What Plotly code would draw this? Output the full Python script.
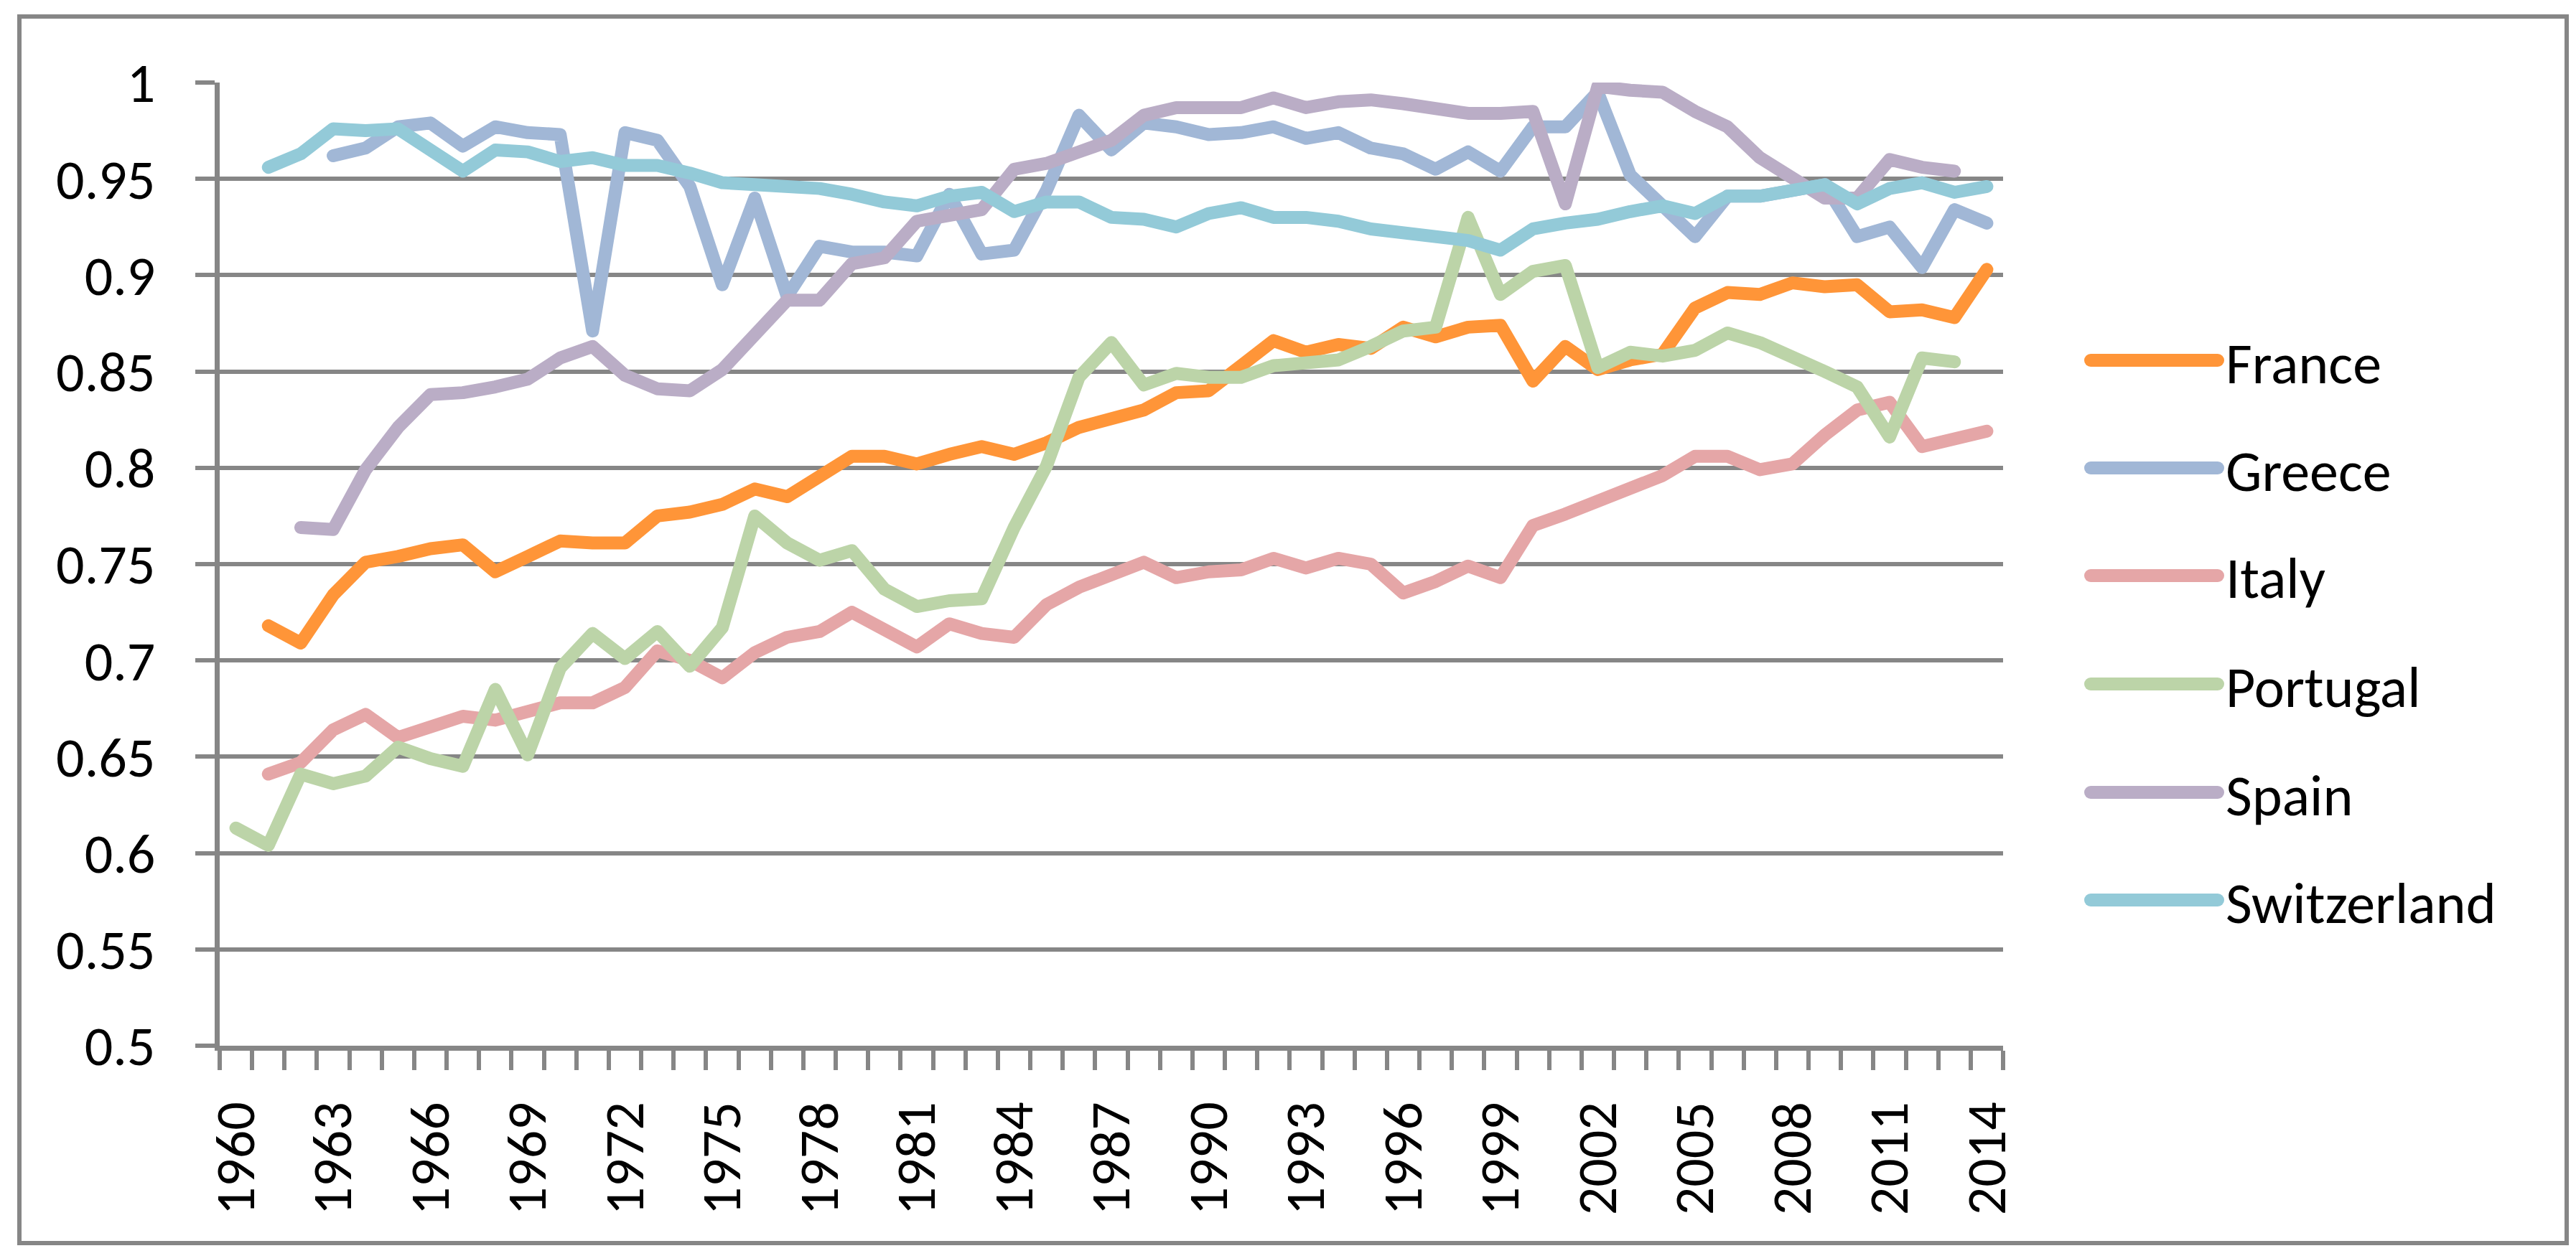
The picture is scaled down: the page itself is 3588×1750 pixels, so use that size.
import plotly.graph_objects as go

# ---------------- data ----------------
years = list(range(1960, 2015))

france = [None, 0.718, 0.709, 0.734, 0.751, 0.754, 0.758, 0.760, 0.746, 0.754,
          0.762, 0.761, 0.761, 0.775, 0.777, 0.781, 0.789, 0.785, 0.796, 0.806,
          0.806, 0.802, 0.807, 0.811, 0.807, 0.813, 0.821, 0.825, 0.830, 0.839,
          0.840, 0.853, 0.866, 0.860, 0.864, 0.862, 0.873, 0.868, 0.873, 0.874,
          0.845, 0.863, 0.851, 0.856, 0.859, 0.883, 0.891, 0.890, 0.896, 0.894,
          0.895, 0.881, 0.882, 0.878, 0.903]

greece = [None, None, None, 0.962, 0.966, 0.977, 0.979, 0.967, 0.977, 0.974,
          0.973, 0.871, 0.974, 0.970, 0.946, 0.895, 0.940, 0.889, 0.915, 0.912,
          0.912, 0.910, 0.942, 0.911, 0.913, 0.944, 0.983, 0.965, 0.979, 0.977,
          0.973, 0.974, 0.977, 0.971, 0.974, 0.966, 0.963, 0.955, 0.964, 0.954,
          0.977, 0.977, 0.995, 0.952, 0.936, 0.920, 0.941, 0.941, 0.944, 0.947,
          0.920, 0.925, 0.904, 0.934, 0.927]

italy = [None, 0.641, 0.647, 0.664, 0.672, 0.660, 0.666, 0.671, 0.669, 0.673,
         0.678, 0.678, 0.686, 0.705, 0.700, 0.691, 0.704, 0.712, 0.715, 0.725,
         0.716, 0.707, 0.719, 0.714, 0.712, 0.729, 0.738, 0.745, 0.751, 0.743,
         0.746, 0.747, 0.753, 0.748, 0.753, 0.750, 0.735, 0.741, 0.749, 0.743,
         0.770, 0.776, 0.783, 0.790, 0.796, 0.806, 0.806, 0.799, 0.802, 0.817,
         0.830, 0.834, 0.811, 0.815, 0.819]

portugal = [0.613, 0.604, 0.641, 0.636, 0.640, 0.655, 0.649, 0.645, 0.685, 0.651,
            0.696, 0.714, 0.701, 0.715, 0.697, 0.717, 0.775, 0.761, 0.752, 0.757,
            0.737, 0.728, 0.731, 0.732, 0.769, 0.801, 0.847, 0.865, 0.843, 0.849,
            0.847, 0.847, 0.853, 0.855, 0.856, 0.863, 0.871, 0.873, 0.930, 0.890,
            0.902, 0.905, 0.852, 0.860, 0.858, 0.861, 0.870, 0.865, 0.858, 0.850,
            0.842, 0.816, 0.857, 0.855, None]

spain = [None, None, 0.769, 0.768, 0.799, 0.821, 0.838, 0.839, 0.842, 0.846,
         0.857, 0.863, 0.848, 0.841, 0.840, 0.851, 0.869, 0.887, 0.887, 0.906,
         0.909, 0.928, 0.931, 0.934, 0.955, 0.958, 0.964, 0.970, 0.983, 0.987,
         0.987, 0.987, 0.992, 0.987, 0.990, 0.991, 0.989, 0.987, 0.984, 0.984,
         0.985, 0.937, 0.998, 0.996, 0.995, 0.985, 0.977, 0.961, 0.951, 0.940,
         0.940, 0.960, 0.956, 0.954, None]

switzerland = [None, 0.956, 0.963, 0.976, 0.975, 0.976, 0.964, 0.954, 0.965, 0.964,
               0.959, 0.961, 0.957, 0.957, 0.953, 0.948, 0.947, 0.946, 0.945, 0.942,
               0.938, 0.936, 0.941, 0.943, 0.933, 0.938, 0.938, 0.930, 0.929, 0.925,
               0.932, 0.935, 0.930, 0.930, 0.928, 0.924, 0.922, 0.919, 0.918, 0.913,
               0.924, 0.927, 0.929, 0.933, 0.936, 0.932, 0.941, 0.941, 0.944, 0.947,
               0.937, 0.945, 0.948, 0.943, 0.946]

series_names = ["France", "Greece", "Italy", "Portugal", "Spain", "Switzerland"]
series_values = [france, greece, italy, portugal, spain, switzerland]
series_colors = ["#FF9538", "#A1B7D6", "#E5A6A7", "#BCD4A8", "#BAADC6", "#93CAD8"]

y_tick_vals = [0.5, 0.55, 0.6, 0.65, 0.7, 0.75, 0.8, 0.85, 0.9, 0.95, 1.0]
y_tick_text = ["0.5", "0.55", "0.6", "0.65", "0.7", "0.75", "0.8", "0.85", "0.9", "0.95", "1"]
x_tick_vals = list(range(1960, 2015, 3))
x_tick_text = [str(v) for v in x_tick_vals]

# ---------------- layout geometry ----------------
W, H = 3588, 1750
L, R, T, B = 298, 2782, 107, 1449   # plot area in pixels
GRAY = "#868686"
FONT = "Carlito, Lato, sans-serif"
FS = 78
LW = 18


def px_x(x):
    return (x - L) / (R - L)


def px_y(y):
    return (B - y) / (B - T)


fig = go.Figure()
for name, vals, col in zip(series_names, series_values, series_colors):
    fig.add_trace(go.Scatter(x=years, y=vals, mode="lines", name=name,
                             line=dict(color=col, width=LW),
                             connectgaps=False, showlegend=False))

shapes = [dict(type="rect", xref="paper", yref="paper",
               x0=px_x(19), x1=px_x(3567), y0=px_y(1724), y1=px_y(15),
               line=dict(color=GRAY, width=6), fillcolor="rgba(0,0,0,0)", layer="below")]
annotations = []
legend_y = [494, 644, 794, 945, 1096, 1246]
for name, col, yc in zip(series_names, series_colors, legend_y):
    shapes.append(dict(type="line", xref="paper", yref="paper",
                       x0=px_x(2904), x1=px_x(3081), y0=px_y(yc), y1=px_y(yc),
                       line=dict(color=col, width=LW)))
    annotations.append(dict(xref="paper", yref="paper", x=px_x(3090), y=px_y(yc + 4),
                            xanchor="left", yanchor="middle", showarrow=False,
                            text=name, font=dict(family=FONT, size=FS + 2, color="black")))

fig.update_layout(
    width=W, height=H,
    margin=dict(l=L, r=W - R, t=T, b=H - B, pad=0),
    paper_bgcolor="white", plot_bgcolor="white",
    font=dict(family=FONT, size=FS, color="black"),
    shapes=shapes, annotations=annotations,
    showlegend=False,
)
fig.update_xaxes(
    range=[1959.5, 2014.5],
    tickmode="array", tickvals=x_tick_vals, ticktext=x_tick_text,
    tickangle=-90, ticks="", ticklabelstandoff=40,
    showline=True, linecolor=GRAY, linewidth=7,
    showgrid=False, zeroline=False,
    minor=dict(tick0=1959.5, dtick=1, ticks="outside", ticklen=27,
               tickwidth=6, tickcolor=GRAY, showgrid=False),
    tickfont=dict(family=FONT, size=FS, color="black"),
)
fig.update_yaxes(
    range=[0.5, 1.0],
    tickmode="array", tickvals=y_tick_vals, ticktext=y_tick_text,
    ticks="outside", ticklen=27, tickwidth=6, tickcolor=GRAY,
    ticklabelstandoff=40,
    showline=True, linecolor=GRAY, linewidth=7,
    showgrid=True, gridcolor=GRAY, gridwidth=6, zeroline=False,
    tickfont=dict(family=FONT, size=FS, color="black"),
)

post = ("var s=document.createElement('style');"
        "s.innerHTML='.js-line{stroke-linejoin:round!important;stroke-linecap:round!important}"
        ".shapelayer path{stroke-linecap:round!important}';"
        "document.head.appendChild(s);")
fig.write_html("out.html", post_script=post)
